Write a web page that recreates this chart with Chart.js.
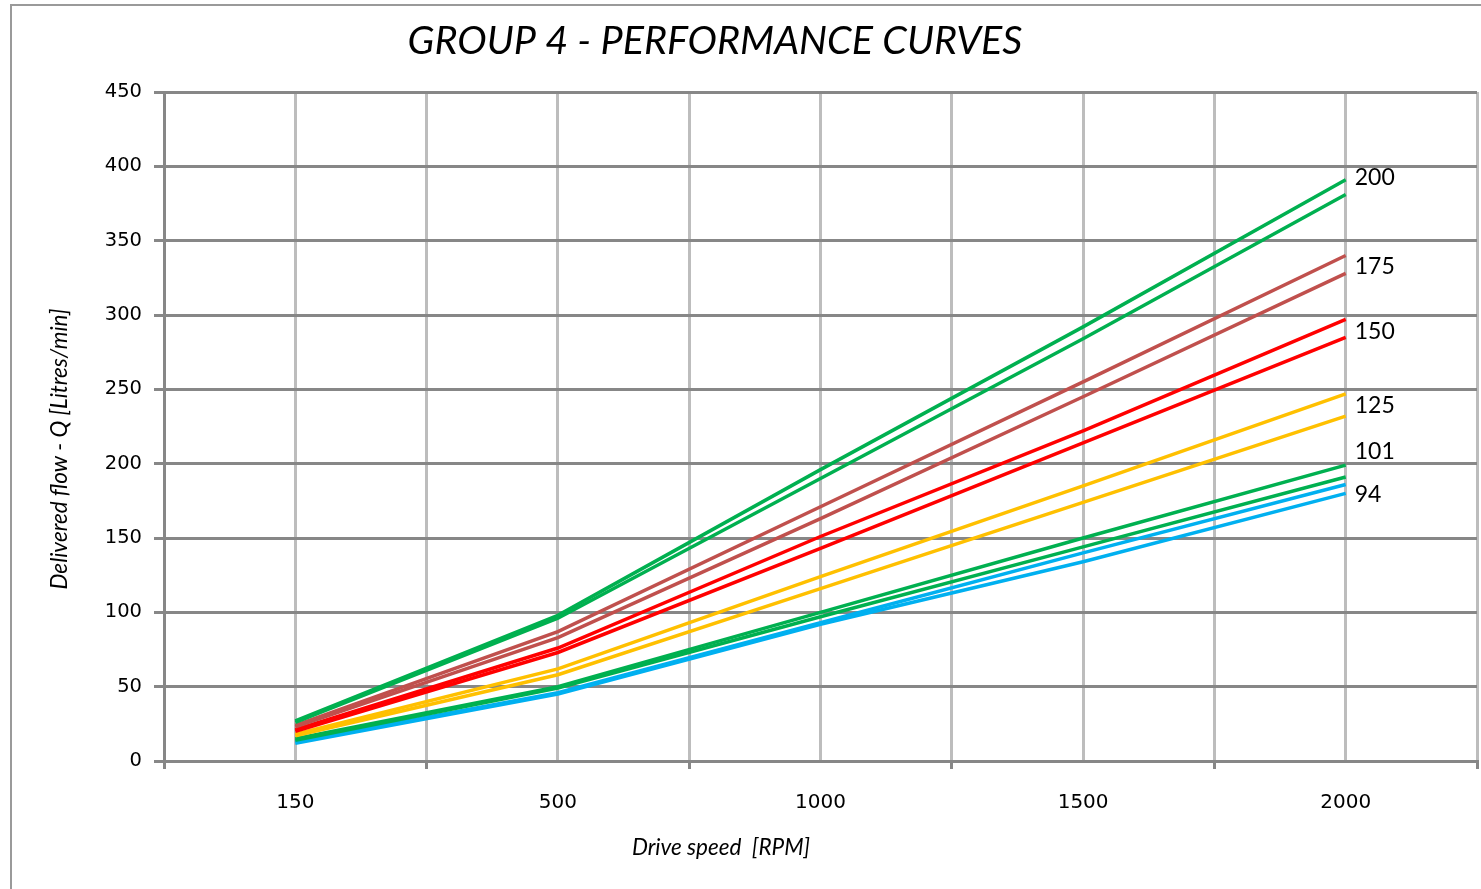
<!DOCTYPE html>
<html>
<head>
<meta charset="utf-8">
<script src="https://cdn.jsdelivr.net/npm/chart.js@4/dist/chart.umd.min.js"></script>
<style>
  body { margin: 0; background: #fff; }
  #wrap { width: 1481px; height: 889px; }
</style>
</head>
<body>
<div id="wrap"><canvas id="grafico" width="1481" height="889"></canvas></div>
<script>
// Velocidades (RPM)
const categorias = ['150', '500', '1000', '1500', '2000'];

// Caudal entregado (L/min), dos curvas por tamaño
const q200a = [27, 98, 196, 292, 391];
const q200b = [26, 96, 190, 284, 381];
const q175a = [24, 87, 171, 255, 340];
const q175b = [23, 83, 163, 245, 328];
const q150a = [21, 76, 151, 222, 297];
const q150b = [20, 73, 143, 214, 285];
const q125a = [18, 62, 124, 185, 247];
const q125b = [17, 58, 116, 174, 232];
const q101a = [15, 50, 100, 150, 199];
const q101b = [14, 49, 97, 144, 191];
const q94a = [13, 46, 93, 140, 186];
const q94b = [12, 45, 92, 134, 180];

const etiquetas = ['200', '175', '150', '125', '101', '94'];
const yTicks = [0, 50, 100, 150, 200, 250, 300, 350, 400, 450];

const grupos = [
    [q200a, q200b, '#00B050'],
    [q175a, q175b, '#C0504D'],
    [q150a, q150b, '#FF0000'],
    [q125a, q125b, '#FFC000'],
    [q101a, q101b, '#00B050'],
    [q94a, q94b, '#00B0F0']
];

// cada categoria ocupa dos pasos en el eje lineal (para tener lineas intermedias)
const aPuntos = serie => serie.map((v, i) => ({ x: i * 2 + 1, y: v }));

const datasets = [];
grupos.forEach(g => {
    [g[0], g[1]].forEach(s => {
        datasets.push({
            data: aPuntos(s),
            borderColor: g[2],
            borderWidth: 3.5,
            pointRadius: 0,
            tension: 0,
            fill: false
        });
    });
});

// Textos fijos: titulo, titulos de ejes, marco
const textosPlugin = {
    id: 'textos',
    beforeDraw(chart) {
        const c = chart.ctx;
        c.save();
        c.fillStyle = '#fff';
        c.fillRect(0, 0, chart.width, chart.height);
        c.strokeStyle = '#9a9a9a';
        c.lineWidth = 2;
        c.strokeRect(11, 5, chart.width + 20, chart.height + 20);
        c.restore();
    },
    afterDraw(chart) {
        const c = chart.ctx;
        c.save();
        c.fillStyle = '#000';
        c.textAlign = 'center';
        c.textBaseline = 'middle';
        c.font = 'italic 39.5px Lato';
        c.fillText('GROUP 4 - PERFORMANCE CURVES', 715, 41);
        c.font = 'italic 22.5px Lato';
        c.fillText('Drive speed  [RPM]', 721, 848);
        c.translate(60, 449);
        c.rotate(-Math.PI / 2);
        c.font = 'italic 22.5px Lato';
        c.fillText('Delivered flow - Q [Litres/min]', 0, 0);
        c.restore();
    }
};

// Etiquetas al final de cada par de curvas
const ajusteY = [-10, 2, 3, 1, -20, 6];
const etiquetasPlugin = {
    id: 'etiquetasFin',
    afterDatasetsDraw(chart) {
        const c = chart.ctx;
        const xs = chart.scales.x, ys = chart.scales.y;
        c.save();
        c.fillStyle = '#000';
        c.font = '23px Lato';
        c.textAlign = 'left';
        c.textBaseline = 'middle';
        grupos.forEach((g, i) => {
            const ult = g[0].length - 1;
            const x = xs.getPixelForValue(ult * 2 + 1) + 9;
            const y = (ys.getPixelForValue(g[0][ult]) + ys.getPixelForValue(g[1][ult])) / 2 + ajusteY[i];
            c.fillText(etiquetas[i], x, y);
        });
        c.restore();
    }
};

const ctx = document.getElementById('grafico').getContext('2d');
const miGrafico = new Chart(ctx, {
    type: 'line',
    data: { datasets: datasets },
    options: {
        responsive: false,
        animation: false,
        devicePixelRatio: 1,
        layout: { padding: { top: 92, right: 4, left: 0, bottom: 0 } },
        plugins: {
            legend: { display: false },
            tooltip: { enabled: false }
        },
        scales: {
            x: {
                type: 'linear',
                min: 0,
                max: categorias.length * 2,
                afterFit(scale) {
                    scale.height = 128;
                    scale.paddingLeft = 0;
                    scale.paddingRight = 0;
                },
                afterBuildTicks(scale) {
                    const t = [];
                    for (let i = 0; i <= categorias.length * 2; i++) t.push({ value: i });
                    scale.ticks = t;
                },
                ticks: {
                    autoSkip: false,
                    maxRotation: 0,
                    padding: 22,
                    color: '#000',
                    font: { family: 'DejaVu Sans', size: 20 },
                    callback: v => (v % 2 === 1 ? categorias[(v - 1) / 2] : '')
                },
                grid: {
                    color: '#bdbdbd',
                    lineWidth: 3,
                    tickLength: 8,
                    tickWidth: 3,
                    tickColor: c => (c.tick && c.tick.value % 2 === 0 ? '#878787' : 'rgba(0,0,0,0)')
                },
                border: { color: '#878787', width: 3 }
            },
            y: {
                min: 0,
                max: 450,
                afterFit(scale) {
                    scale.width = 164;
                    scale.paddingTop = 0;
                    scale.paddingBottom = 0;
                },
                afterBuildTicks(scale) {
                    scale.ticks = yTicks.map(v => ({ value: v }));
                },
                ticks: {
                    padding: 12,
                    color: '#000',
                    font: { family: 'DejaVu Sans', size: 19.5 }
                },
                grid: {
                    color: '#878787',
                    lineWidth: 3,
                    tickLength: 10
                },
                border: { color: '#878787', width: 3 }
            }
        }
    },
    plugins: [textosPlugin, etiquetasPlugin]
});
</script>
</body>
</html>
